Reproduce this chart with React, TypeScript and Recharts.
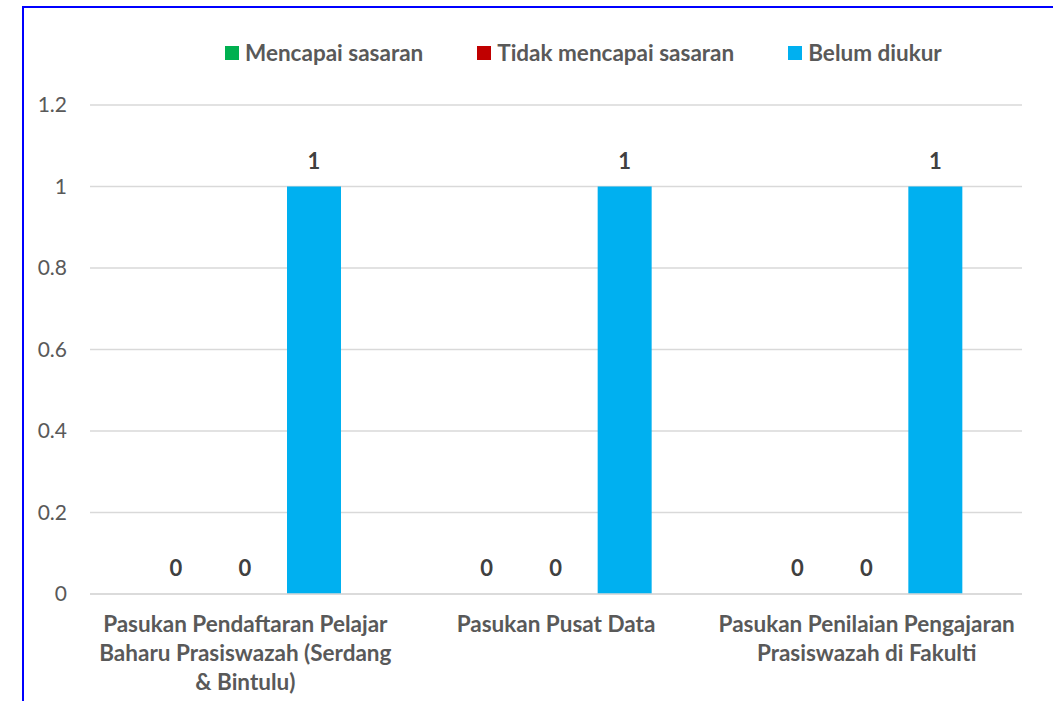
import { BarChart, Bar, XAxis, YAxis, CartesianGrid, LabelList, Legend } from 'recharts'

const categories = [
  'Pasukan Pendaftaran Pelajar\nBaharu Prasiswazah (Serdang\n& Bintulu)',
  'Pasukan Pusat Data',
  'Pasukan Penilaian Pengajaran\nPrasiswazah di Fakulti',
]
const mencapai = [0, 0, 0]
const tidakMencapai = [0, 0, 0]
const belumDiukur = [1, 1, 1]
const yTicks = [0, 0.2, 0.4, 0.6, 0.8, 1, 1.2]

const series = [
  { key: 'mencapai', name: 'Mencapai sasaran', color: '#00b050' },
  { key: 'tidak', name: 'Tidak mencapai sasaran', color: '#c00000' },
  { key: 'belum', name: 'Belum diukur', color: '#00b0f0' },
]

const data = categories.map((c, i) => ({
  name: c,
  mencapai: mencapai[i],
  tidak: tidakMencapai[i],
  belum: belumDiukur[i],
}))

const FONT = 'Lato, "Open Sans", sans-serif'
const GREY = '#595959'

function CategoryTick(props: any) {
  const { x, y, payload } = props
  const lines = String(payload.value).split('\n')
  return (
    <text x={x} y={y} textAnchor="middle" fill={GREY} fontSize={22.5} fontWeight="bold">
      {lines.map((line, i) => (
        <tspan key={i} x={x} dy={i === 0 ? '0.71em' : 29}>
          {line}
        </tspan>
      ))}
    </text>
  )
}

function LegendBox() {
  return (
    <div style={{ display: 'flex', alignItems: 'center', height: 30, paddingLeft: 225, gap: 54 }}>
      {series.map((s) => (
        <div key={s.key} style={{ display: 'flex', alignItems: 'center', gap: 6 }}>
          <span style={{ width: 14, height: 14, background: s.color, display: 'inline-block' }} />
          <span style={{ fontSize: 22.5, fontWeight: 'bold', color: GREY, lineHeight: '30px' }}>{s.name}</span>
        </div>
      ))}
    </div>
  )
}

// zero bars get a hairline so their "0" labels still render
const keepZero = (v: any) => (v === 0 ? 0.1 : 0)

export default function App() {
  return (
    <div style={{ position: 'absolute', left: 0, top: 0, width: 1053, height: 701, fontFamily: FONT, overflow: 'hidden' }}>
      {/* frame: only top and left edges fall inside the picture */}
      <div
        style={{
          position: 'absolute',
          left: 22,
          top: 6,
          width: 1031,
          height: 695,
          borderTop: '2px solid #0000ff',
          borderLeft: '2px solid #0000ff',
          boxSizing: 'border-box',
        }}
      />
      <div style={{ position: 'absolute', left: 0, top: 0 }}>
        <BarChart
          width={1053}
          height={701}
          data={data}
          margin={{ top: 105, right: 31, bottom: 0, left: 0 }}
          barSize={54}
          barGap={15}
        >
          <CartesianGrid vertical={false} stroke="#d9d9d9" strokeWidth={1.5} />
          <XAxis
            dataKey="name"
            height={107}
            axisLine={{ stroke: '#d9d9d9', strokeWidth: 1.5 }}
            tickLine={false}
            tickMargin={16}
            interval={0}
            tick={<CategoryTick />}
          />
          <YAxis
            width={90}
            domain={[0, 1.2]}
            ticks={yTicks}
            axisLine={false}
            tickLine={false}
            tickMargin={17}
            tick={{ fill: GREY, fontSize: 21 }}
          />
          <Legend
            layout="horizontal"
            verticalAlign="middle"
            align="center"
            wrapperStyle={{ top: 38, left: 0, width: 1053 }}
            content={() => <LegendBox />}
          />
          {series.map((s) => (
            <Bar
              key={s.key}
              dataKey={s.key}
              name={s.name}
              fill={s.color}
              minPointSize={keepZero}
              isAnimationActive={false}
            >
              <LabelList
                dataKey={s.key}
                position="top"
                offset={18}
                fill="#404040"
                fontSize={22}
                fontWeight="bold"
              />
            </Bar>
          ))}
        </BarChart>
      </div>
    </div>
  )
}
